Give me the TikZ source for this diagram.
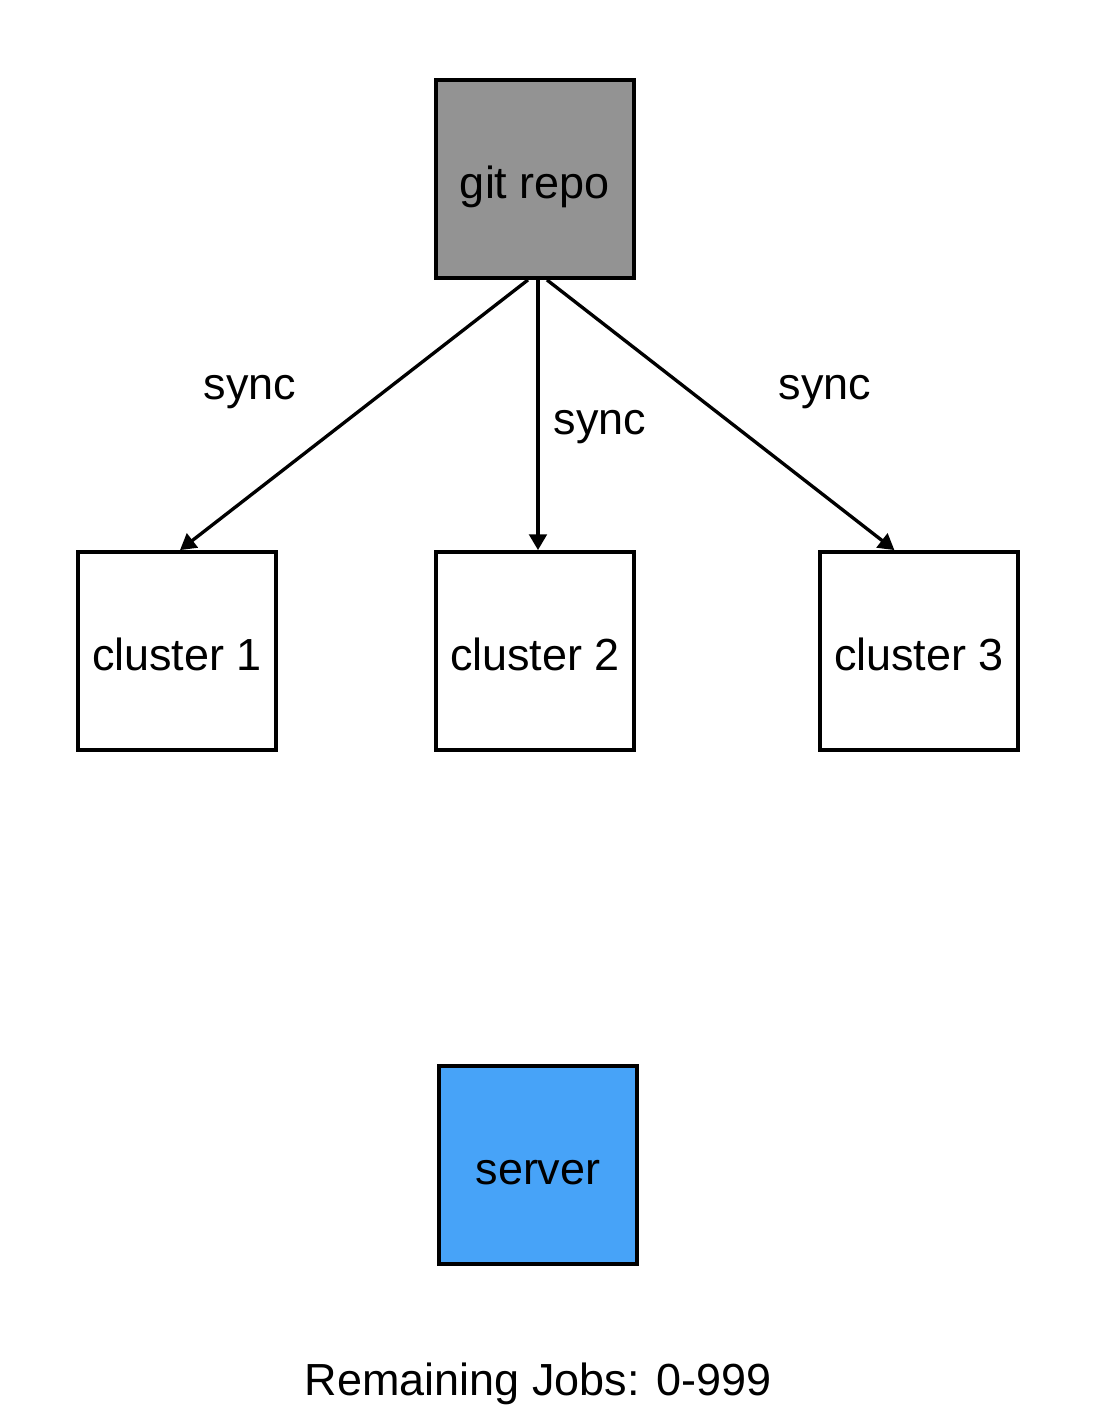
\documentclass[tikz,border=0pt]{standalone}
\usepackage{fontspec}
\setmainfont{Liberation Sans}
\usetikzlibrary{arrows.meta,positioning,calc}
\definecolor{repogray}{HTML}{939393}
\definecolor{serverblue}{HTML}{47A3F8}

\begin{document}
\begin{tikzpicture}[x=0.02cm,y=-0.02cm,
    box/.style={draw,line width=2.2pt,minimum size=3.96cm,inner sep=0pt,text height=23pt,text depth=1pt,font=\fontsize{25.6}{30}\selectfont},
    flow/.style={line width=1.9pt,-{Triangle[length=9pt,width=10pt]}},
    lbl/.style={font=\fontsize{25.6}{30}\selectfont}]
    \useasboundingbox (0,0) rectangle (1096,1424);
    \node[box,fill=repogray] (git) at (535,179) {git repo};
    \node[box] (c1) at (177,651) {cluster 1};
    \node[box] (c2) at (535,651) {cluster 2};
    \node[box] (c3) at (919,651) {cluster 3};
    \node[box,fill=serverblue] (srv) at (538,1165) {server};
    \draw[flow] ([xshift=-4pt]git.south) -- ([xshift=1.7pt]c1.north);
    \draw[flow] ([xshift=1.7pt]git.south) -- ([xshift=1.7pt]c2.north);
    \draw[flow] ([xshift=6.8pt]git.south) -- ([xshift=-14pt]c3.north);
    \node[lbl] (s1) at (250,392) {sync};
    \node[lbl] (s2) at (600,427) {sync};
    \node[lbl] (s3) at (825,392) {sync};
    \node[lbl] (jobs) at (538,1384) {Remaining Jobs: 0-999};
  \end{tikzpicture}
\end{document}
